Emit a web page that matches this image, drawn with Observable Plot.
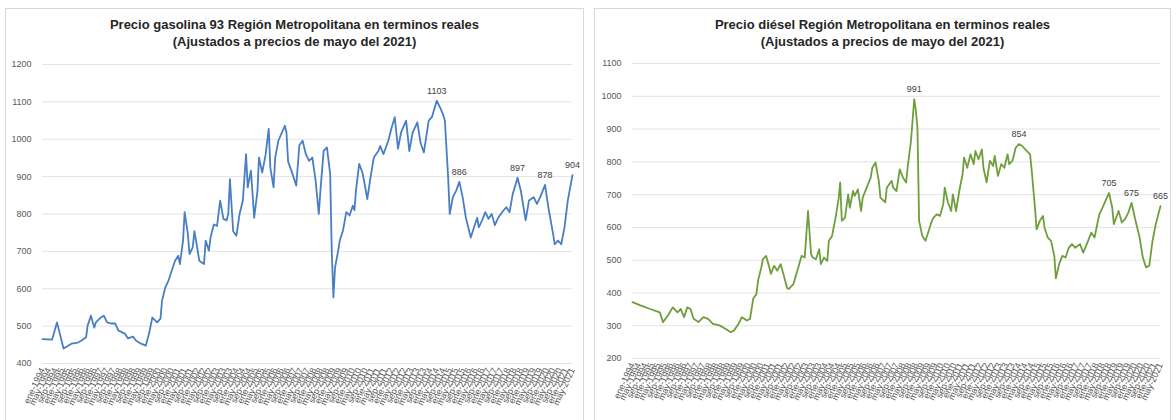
<!DOCTYPE html>
<html>
<head>
<meta charset="utf-8">
<script src="https://cdn.jsdelivr.net/npm/d3@7"></script>
<script src="https://cdn.jsdelivr.net/npm/@observablehq/plot@0.6"></script>
<style>
  html, body { margin: 0; padding: 0; background: #ffffff; }
  body { width: 1176px; height: 420px; position: relative; overflow: hidden; font-family: "Liberation Sans", Arial, sans-serif; }
  .panel { position: absolute; top: 8px; height: 430px; border: 1px solid #d9d9d9; background: #fff; box-sizing: content-box; }
  .title { height: 47px; box-sizing: border-box; padding-top: 7px; text-align: center; font-weight: bold; font-size: 13px; line-height: 17px; color: #262626; }
  .panel svg { display: block; }
</style>
</head>
<body>
<div class="panel" id="p1" style="left:5px; width:577px;">
  <div class="title">Precio gasolina 93 Región Metropolitana en terminos reales<br>(Ajustados a precios de mayo del 2021)</div>
</div>
<div class="panel" id="p2" style="left:594px; width:575px;">
  <div class="title">Precio diésel Región Metropolitana en terminos reales<br>(Ajustados a precios de mayo del 2021)</div>
</div>
<script>
// Months counted from January 1994 (0 = ene-1994, 328 = may-2021)
const startYear = 1994;
const lastMonth = 328;
const monthNames = ["ene","feb","mar","abr","may","jun","jul","ago","sep","oct","nov","dic"];

// Gasolina 93 (CLP/litro, real)
const gasMonths = [0,6,9,13,18,22,24,27,28,30,32,33,36,38,40,43,45,47,51,53,56,58,61,64,66,68,71,73,74,76,
  78,82,84,85,87,88,90,91,93,94,95,97,100,101,103,104,106,108,110,112,114,115,116,118,120,122,124,126,127,129,
  131,133,134,136,138,140,141,143,144,146,150,151,152,154,157,159,161,163,165,167,169,171,172,174,176,178,179,180,
  181,183,184,186,188,190,192,193,194,196,198,199,201,203,205,208,209,211,214,216,218,220,222,225,227,229,232,234,236,239,241,244,246,248,249,251,252,
  254,256,258,260,262,265,267,269,270,272,274,276,278,280,282,285,287,289,291,294,296,299,301,304,306,308,311,313,316,317,319,321,323,325,328];
const gasValues = [465,464,510,440,453,456,461,470,502,528,496,510,523,528,510,507,507,488,480,467,472,461,453,448,480,523,510,520,568,603,
  622,675,688,666,729,805,746,693,711,754,729,675,666,729,702,737,772,768,836,787,783,800,893,754,742,800,836,960,871,916,
  790,862,951,911,956,1028,924,871,951,996,1036,1018,940,916,876,984,996,960,942,951,889,800,862,969,978,907,700,577,
  657,702,729,756,805,796,822,810,862,934,911,889,840,898,951,969,982,960,996,1030,1059,975,1020,1050,968,1018,1045,990,965,1050,1060,1103,1085,1065,1050,900,800,
  845,862,886,845,790,737,764,790,764,783,805,787,800,770,790,808,818,805,853,897,862,783,836,845,827,845,878,818,746,719,729,719,764,836,904];
const gasLabelMonths = [244,258,294,311,328];

// Diésel (CLP/litro, real)
const dieMonths = [0,5,11,17,19,22,25,28,30,32,34,36,38,41,44,47,50,54,58,61,63,66,68,71,73,75,77,78,
  80,81,83,85,86,88,90,92,94,96,97,100,103,105,107,109,111,112,114,116,117,119,121,122,124,126,128,129,130,132,134,135,137,138,140,142,143,145,148,149,151,153,154,157,158,161,162,164,166,168,170,171,173,175,176,177,178,
  180,182,184,186,187,189,191,193,194,196,198,199,201,203,205,206,208,210,212,213,215,217,218,220,222,224,225,227,229,231,233,234,236,238,240,242,244,247,248,250,251,
  253,255,256,258,260,262,263,265,267,269,271,273,275,278,280,283,285,287,290,292,296,298,299,302,304,306,308,310,312,315,317,319,321,323,325,328];
const dieValues = [372,362,351,341,311,331,356,341,351,326,356,351,321,311,326,321,306,301,290,280,285,306,326,316,321,382,397,437,
  478,503,513,478,458,483,468,488,453,415,412,427,478,513,508,650,518,508,503,533,488,508,498,559,574,625,686,737,620,630,701,660,711,696,716,650,691,716,752,782,798,742,691,676,721,742,721,711,777,752,737,787,864,991,956,905,620,
  574,559,589,620,630,640,635,671,721,676,650,701,650,711,762,813,782,823,793,833,808,838,782,737,803,787,818,757,793,782,823,793,803,843,854,849,838,823,772,660,594,
  620,635,599,569,559,513,445,488,513,508,538,549,538,549,523,559,584,569,640,660,705,660,610,650,615,625,645,675,630,569,508,478,483,559,610,665];
const dieLabelMonths = [175,240,296,310,328];

// Axis ticks
const gasYTicks = [400,500,600,700,800,900,1000,1100,1200];
const dieYTicks = [200,300,400,500,600,700,800,900,1000,1100];
const xTickEvery = 4; // months between category labels

const toDate = m => new Date(Date.UTC(startYear, m, 1));
const xTicks = d3.range(0, lastMonth + 1, xTickEvery).map(toDate);
const fmt = d => `${monthNames[d.getUTCMonth()]}-${d.getUTCFullYear()}`;

function makeChart({months, values, labelMonths, color, yTicks, width, ml, mr, mt, mb}) {
  const data = months.map((m, i) => ({date: toDate(m), value: values[i]}));
  const labels = data.filter((d, i) => labelMonths.includes(months[i]));
  const height = 364;
  return Plot.plot({
    width, height,
    marginLeft: ml, marginRight: mr, marginTop: mt, marginBottom: mb,
    style: {fontFamily: "'Liberation Sans', Arial, sans-serif", fontSize: "9px", color: "#595959", background: "transparent", overflow: "visible"},
    x: {type: "utc", domain: [toDate(0), toDate(lastMonth)], ticks: xTicks, tickFormat: fmt, tickRotate: -65, tickSize: 0, tickPadding: 5, label: null},
    y: {domain: [yTicks[0], yTicks[yTicks.length - 1]], ticks: yTicks, tickSize: 0, tickPadding: 11, label: null, tickFormat: d => String(d)},
    marks: [
      Plot.ruleY(yTicks, {stroke: "#e3e3e3", strokeWidth: 1}),
      Plot.line(data, {x: "date", y: "value", stroke: color, strokeWidth: 1.8, strokeLinejoin: "round"}),
      Plot.text(labels, {x: "date", y: "value", text: d => String(d.value), dy: -10, fill: "#404040", fontSize: 9})
    ]
  });
}

document.getElementById("p1").appendChild(makeChart({
  months: gasMonths, values: gasValues, labelMonths: gasLabelMonths, color: "#4a7ec4",
  yTicks: gasYTicks, width: 577, ml: 36, mr: 11, mt: 8, mb: 57
}));
document.getElementById("p2").appendChild(makeChart({
  months: dieMonths, values: dieValues, labelMonths: dieLabelMonths, color: "#6f9e3c",
  yTicks: dieYTicks, width: 575, ml: 37, mr: 10, mt: 7, mb: 62
}));
</script>
</body>
</html>
